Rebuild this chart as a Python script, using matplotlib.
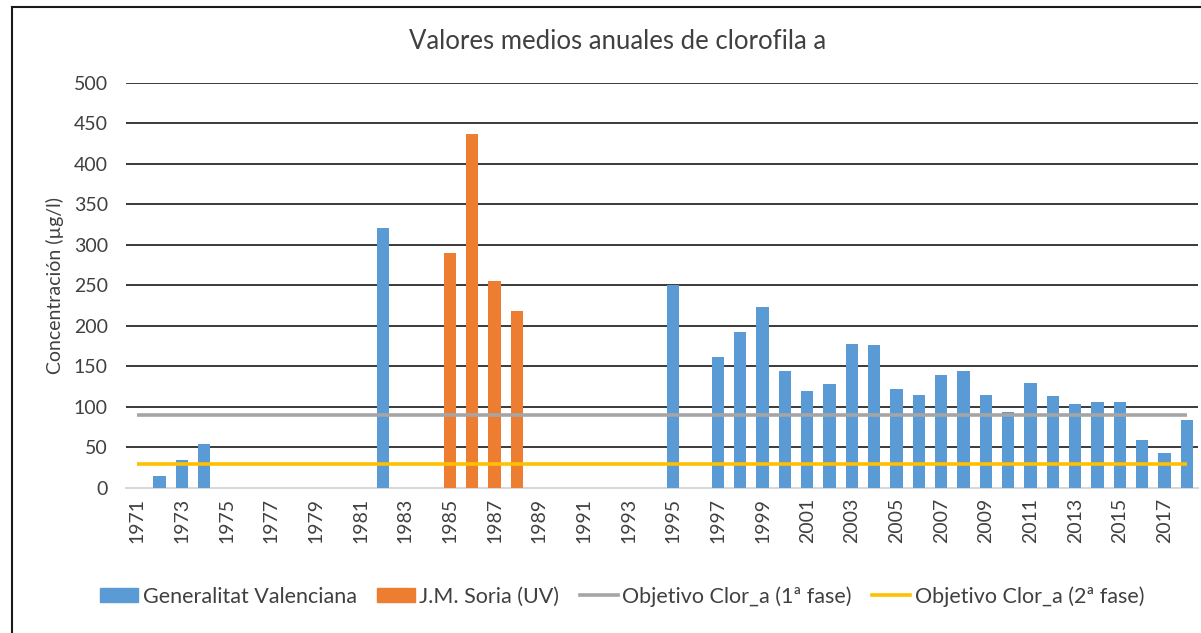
import matplotlib
matplotlib.use("Agg")
import matplotlib.pyplot as plt
from matplotlib.lines import Line2D
from matplotlib.patches import Patch
import numpy as np

plt.rcParams.update({
    "font.family": ["Lato", "DejaVu Sans"],
    "font.size": 14,
    "text.color": "#404040",
})

# categories (one per year on the axis)
years = list(range(1971, 2019))

# Generalitat Valenciana annual means (µg/l)
gv_years = [1972, 1973, 1974, 1982, 1995, 1997, 1998, 1999, 2000, 2001, 2002,
            2003, 2004, 2005, 2006, 2007, 2008, 2009, 2010, 2011, 2012, 2013,
            2014, 2015, 2016, 2017, 2018]
gv_values = [15, 34, 54, 321, 250, 162, 192, 223, 144, 120, 128,
             178, 177, 122, 115, 139, 145, 115, 94, 129, 114, 104,
             106, 106, 59, 43, 84]

# J.M. Soria (UV)
soria_years = [1985, 1986, 1987, 1988]
soria_values = [290, 437, 256, 218]

# targets
target_1 = 90
target_2 = 30

BLUE = "#5B9BD5"
ORANGE = "#ED7D31"
GREY = "#A5A5A5"
YELLOW = "#FFC000"

fig = plt.figure(figsize=(12.01, 6.33), dpi=100)
ax = fig.add_axes([0.1049, 0.2291, 0.8926, 0.6398])

pos = {y: i for i, y in enumerate(years)}
x = np.arange(len(years))
w = 0.55

ax.bar([pos[y] for y in gv_years], gv_values, width=w, color=BLUE, zorder=2)
ax.bar([pos[y] for y in soria_years], soria_values, width=w, color=ORANGE, zorder=2)
ax.plot([x[0], x[-1]], [target_1, target_1], color=GREY, lw=2.6, zorder=3,
        solid_capstyle="butt")
ax.plot([x[0], x[-1]], [target_2, target_2], color=YELLOW, lw=2.6, zorder=3,
        solid_capstyle="butt")

ax.set_xlim(-0.5, len(years) - 0.5)
ax.set_ylim(0, 500)
ax.set_yticks(range(0, 501, 50))
ax.yaxis.grid(True, color="#2b2b2b", lw=1.3, zorder=0)
ax.set_axisbelow(True)
ax.set_xticks(x[::2])
ax.set_xticklabels([str(y) for y in years[::2]], rotation=90)
ax.tick_params(axis="y", length=0, pad=13, labelsize=14, labelcolor="#404040")
ax.tick_params(axis="x", length=0, pad=7, labelsize=14, labelcolor="#404040")
for s in ["top", "right", "left"]:
    ax.spines[s].set_visible(False)
ax.spines["bottom"].set_color("#d9d9d9")
ax.spines["bottom"].set_linewidth(1.5)
ax.spines["bottom"].set_zorder(1)

ax.set_ylabel("Concentración (µg/l)", fontsize=14, color="#404040", labelpad=7)
fig.text(0.5146, 0.934, "Valores medios anuales de clorofila a", ha="center",
         va="center", fontsize=18.5, color="#404040")

handles = [Patch(color=BLUE), Patch(color=ORANGE),
           Line2D([], [], color=GREY, lw=2.6), Line2D([], [], color=YELLOW, lw=2.6)]
labels = ["Generalitat Valenciana", "J.M. Soria (UV)",
          "Objetivo Clor_a (1ª fase)", "Objetivo Clor_a (2ª fase)"]
fig.legend(handles, labels, loc="center", bbox_to_anchor=(0.518, 0.058), ncol=4,
           frameon=False, fontsize=15.5, handlelength=1.77, handleheight=0.6,
           handletextpad=0.2, columnspacing=0.95)

# chart border (cropped on right/bottom in the original)
fig.add_artist(Line2D([12 / 1201, 12 / 1201], [0, 1 - 7 / 633], color="#1a1a1a", lw=1.5))
fig.add_artist(Line2D([12 / 1201, 1], [1 - 7 / 633, 1 - 7 / 633], color="#1a1a1a", lw=1.5))

fig.savefig("out.png", dpi=100)
